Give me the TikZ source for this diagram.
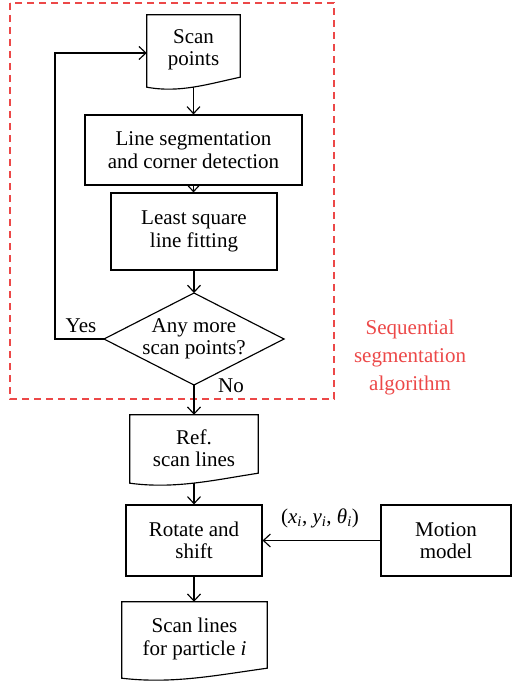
\documentclass[tikz,border=0pt]{standalone}
\usepackage{fontspec}
\setmainfont{Liberation Serif}
\usetikzlibrary{arrows.meta,calc}
\definecolor{segred}{RGB}{236,72,72}
\newcommand\docoutline[1]{\draw[boxline] ($(#1.south west)+(0,2)$) -- (#1.north west) -- (#1.north east) -- ($(#1.south east)+(0,-8)$) .. controls ($(#1.south west)!0.65!(#1.south east)+(0,-1)$) and ($(#1.south west)!0.35!(#1.south east)+(0,8)$) .. ($(#1.south west)+(0,2)$) -- cycle;}
\begin{document}
\begin{tikzpicture}[x=1pt,y=-1pt,
 boxline/.style={line width=1.15pt, black},
 lbl/.style={font=\fontsize{21}{22.5}\selectfont, align=center, inner sep=0pt},
 procbox/.style={lbl, draw, line width=1.15pt},
 docnode/.style={lbl},
 arr/.style={line width=1.15pt, -{Straight Barb[length=7pt,width=13pt]}},
]
\path[use as bounding box] (0,0) rectangle (512,682);
\draw[segred, line width=1.5pt, dash pattern=on 7pt off 5pt] (10,3) rectangle (334,399);

\node[docnode, minimum width=93pt, minimum height=70pt] (scan) at (193.5,50) {Scan\\points};
\docoutline{scan}
\node[procbox, minimum width=217pt, minimum height=70pt] (seg) at (193.5,150) {Line segmentation\\and corner detection};
\node[procbox, minimum width=166pt, minimum height=77pt] (lsq) at (194,231.5) {Least square\\line fitting};
\node[lbl] (dia) at (194,339) {Any more\\scan points?};
\coordinate (diaT) at (194,293);
\coordinate (diaR) at (284,339);
\coordinate (diaB) at (194,385);
\coordinate (diaL) at (104,339);
\draw[boxline] (diaT) -- (diaR) -- (diaB) -- (diaL) -- cycle;

\node[docnode, minimum width=128pt, minimum height=66pt] (ref) at (194,448) {Ref.\\scan lines};
\docoutline{ref}
\node[procbox, minimum width=136pt, minimum height=71pt] (rot) at (194,540.5) {Rotate and\\shift};
\node[procbox, minimum width=130pt, minimum height=71pt] (mot) at (446,540.5) {Motion\\model};
\node[docnode, minimum width=145pt, minimum height=74pt] (out) at (194.5,639) {Scan lines\\for particle \textit{i}};
\docoutline{out}

\coordinate (fb) at (55,53);
\draw[arr] ($(scan.south)+(0,2)$) -- (seg.north);
\draw[arr] (seg.south) -- (seg.south |- lsq.north);
\draw[arr] (lsq.south) -- (diaT);
\draw[arr] (diaL) -| (fb) -- (fb -| scan.west);
\draw[arr] (diaB) -- (ref.north);
\draw[arr] ($(ref.south)+(0,2)$) -- (rot.north);
\draw[arr] (mot.west) -- (rot.east);
\draw[arr] (rot.south) -- (rot.south |- out.north);

\node[lbl, anchor=base] (yes) at (81,332) {Yes};
\node[lbl, anchor=base] (no) at (231,392) {No};
\node[lbl, anchor=base] (pose) at (320,523) {(\textit{x\textsubscript{i}}, \textit{y\textsubscript{i}}, \textit{θ\textsubscript{i}})};
\node[lbl, text=segred, font=\fontsize{21}{28}\selectfont] (alg) at (410,357) {Sequential\\segmentation\\algorithm};
\end{tikzpicture}
\end{document}
